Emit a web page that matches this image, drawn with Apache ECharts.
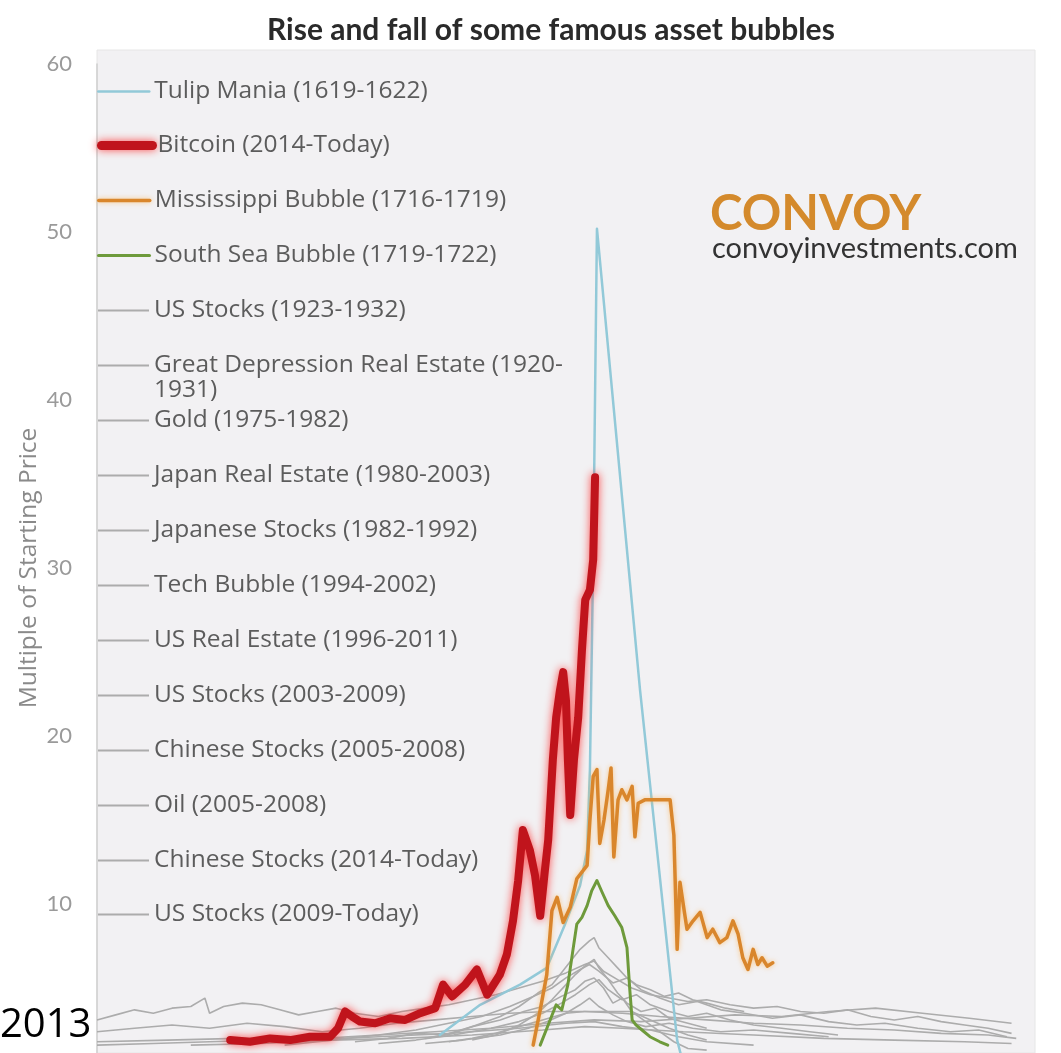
<!DOCTYPE html>
<html>
<head>
<meta charset="utf-8">
<script src="https://cdn.jsdelivr.net/npm/echarts@6/dist/echarts.min.js"></script>
<style>
html,body{margin:0;padding:0;background:#fff;}
#chart{width:1061px;height:1053px;}
</style>
</head>
<body>
<div id="chart"></div>
<script>
// ---- Data (x = period index along the aligned time axis, y = multiple of starting price) ----
const titleText = "Rise and fall of some famous asset bubbles";
const yAxisName = "Multiple of Starting Price";
const yTicks = [0, 10, 20, 30, 40, 50, 60];

const names = [
  "Tulip Mania (1619-1622)",
  "Bitcoin (2014-Today)",
  "Mississippi Bubble (1716-1719)",
  "South Sea Bubble (1719-1722)",
  "US Stocks (1923-1932)",
  "Great Depression Real Estate (1920-1931)",
  "Gold (1975-1982)",
  "Japan Real Estate (1980-2003)",
  "Japanese Stocks (1982-1992)",
  "Tech Bubble (1994-2002)",
  "US Real Estate (1996-2011)",
  "US Stocks (2003-2009)",
  "Chinese Stocks (2005-2008)",
  "Oil (2005-2008)",
  "Chinese Stocks (2014-Today)",
  "US Stocks (2009-Today)"
];

const tulip = [[73.1,2.2],[81.7,4.0],[90.2,5.2],[95.9,6.2],[99.8,8.8],[103.0,11.1],[104.5,13.2],[105.1,18.0],[105.8,30.5],[106.6,50.2],[115.8,22.7],[123.7,1.9],[124.7,0.8]];

const bitcoin = [[28.4,1.9],[32.6,1.8],[36.9,2.0],[41.2,1.9],[45.4,2.1],[49.7,2.1],[51.4,2.6],[52.9,3.6],[54.4,3.3],[56.1,3.0],[59.3,2.9],[62.5,3.2],[65.7,3.1],[68.9,3.5],[72.1,3.8],[73.8,5.2],[75.7,4.5],[78.5,5.2],[81.0,6.1],[83.2,4.6],[85.9,5.8],[87.4,7.0],[88.7,9.0],[89.8,11.4],[90.8,14.4],[92.3,13.2],[93.4,11.7],[94.5,9.3],[95.5,12.0],[96.2,13.8],[97.2,18.6],[97.9,21.1],[98.7,22.7],[99.4,23.8],[100.0,22.1],[100.4,18.6],[100.9,15.3],[101.7,18.6],[102.6,21.1],[103.4,25.1],[104.1,28.1],[105.1,28.7],[105.8,30.5],[106.2,35.4]];

const mississippi = [[93.0,1.6],[94.5,3.7],[95.9,5.8],[97.0,9.6],[98.1,10.4],[99.4,8.9],[100.9,9.8],[102.3,11.5],[104.5,12.3],[105.1,15.0],[105.8,17.6],[106.6,18.0],[107.2,13.6],[108.1,15.0],[109.0,16.8],[109.6,18.1],[110.2,12.8],[111.1,16.2],[111.9,16.8],[113.0,16.2],[114.1,17.0],[114.7,14.0],[115.4,16.0],[116.8,16.2],[122.2,16.2],[123.0,14.1],[123.7,7.3],[124.3,11.3],[125.2,9.6],[125.8,8.5],[127.1,9.0],[128.6,9.5],[130.1,8.0],[131.3,8.5],[132.8,7.7],[134.3,8.0],[135.6,9.0],[136.7,8.2],[137.7,6.8],[138.8,6.1],[139.9,7.3],[140.9,6.4],[141.8,6.8],[142.9,6.3],[144.1,6.5]];

const southSea = [[94.5,1.6],[96.2,2.8],[97.9,4.0],[99.1,3.7],[100.4,5.2],[101.5,7.3],[102.3,8.8],[103.4,9.2],[104.5,9.9],[105.5,10.8],[106.6,11.4],[107.7,10.7],[109.0,9.9],[110.4,9.3],[111.9,8.6],[113.0,7.4],[113.6,4.9],[114.1,3.1],[114.9,2.8],[116.2,2.5],[117.9,2.1],[120.0,1.8],[121.7,1.6]];

const usStocks1923 = [[55,1.8],[62,2.0],[68,2.3],[74,2.2],[80,2.7],[86,3.1],[91,3.6],[95,3.9],[99,4.5],[102,4.9],[104,5.4],[106,5.6],[108,5.0],[110,4.1],[112,4.4],[114,3.6],[117,3.0],[120,2.4],[123,1.8],[126,1.4],[130,1.3]];
const greatDepressionRE = [[20,1.6],[35,1.7],[50,1.9],[65,2.0],[80,2.2],[95,2.5],[104,2.7],[112,2.6],[125,2.4],[140,2.2],[155,2.0],[170,1.9],[185,1.8],[195,1.7]];
const gold = [[70,2.0],[76,2.3],[82,2.9],[86,3.3],[90,3.9],[94,4.7],[97,5.2],[99,5.9],[101,6.6],[103,7.3],[105,7.8],[106,8.0],[107,7.4],[109,6.8],[111,6.2],[113,5.6],[115,5.2],[118,4.9],[121,4.5],[124,4.7],[127,4.3],[130,4.1],[134,3.8],[138,3.6]];
const japanRE = [[0,3.1],[4,3.4],[8,3.7],[12,3.5],[16,3.8],[20,3.9],[23,4.4],[24,3.5],[27,3.9],[31,4.1],[35,4.0],[39,3.7],[43,3.4],[47,3.6],[51,3.8],[55,3.5],[60,3.3],[65,3.6],[70,3.8],[75,4.0],[80,4.3],[85,4.6],[90,5.0],[95,5.4],[100,5.9],[104,6.4],[106,6.6],[108,6.0],[111,5.5],[114,5.0],[118,4.6],[122,4.4],[126,4.2],[130,4.3],[135,4.0],[140,3.8],[145,3.9],[150,3.6],[155,3.5],[160,3.7],[165,3.3],[170,3.1],[175,3.3],[180,3.0],[185,2.8],[190,2.6],[195,2.3]];
const japaneseStocks = [[40,1.6],[50,1.9],[60,2.2],[68,2.5],[75,2.9],[82,3.3],[88,3.9],[93,4.5],[97,5.0],[100,5.6],[103,6.1],[105,6.4],[107,6.0],[110,5.3],[113,5.6],[116,4.9],[120,4.4],[124,4.0],[128,4.2],[133,3.7],[138,3.5],[144,3.2],[150,3.4],[156,3.0],[162,2.8],[168,2.9],[175,2.6],[182,2.4],[188,2.5],[194,2.1]];
const techBubble = [[60,1.7],[68,1.9],[76,2.2],[84,2.6],[90,3.0],[95,3.5],[99,4.1],[102,4.6],[105,5.2],[107,5.5],[109,4.9],[112,4.3],[115,4.6],[118,4.0],[122,3.6],[126,3.3],[130,3.5],[135,3.1],[140,2.8],[146,2.6],[152,2.4],[158,2.2]];
const usRealEstate = [[0,2.4],[8,2.6],[16,2.8],[24,2.6],[32,2.9],[40,2.7],[48,2.4],[56,2.6],[64,2.9],[72,3.1],[80,3.3],[88,3.5],[96,3.6],[104,3.6],[112,3.5],[120,3.3],[130,3.1],[140,2.9],[150,2.8],[160,2.6],[170,2.5],[180,2.3],[190,2.2],[196,2.0]];
const usStocks2003 = [[0,1.8],[15,1.9],[30,2.0],[45,1.9],[60,2.1],[75,2.3],[90,2.6],[100,2.9],[106,3.0],[112,2.7],[118,2.5],[124,2.1],[130,1.8],[140,1.6]];
const chineseStocks2005 = [[80,1.9],[85,2.2],[90,2.8],[94,3.5],[97,4.3],[100,5.2],[102,5.8],[104,6.3],[106,6.7],[107,6.2],[109,5.5],[111,4.7],[113,4.1],[116,3.6],[119,3.8],[122,3.2],[126,2.9],[130,2.6]];
const oil = [[75,1.8],[80,2.0],[85,2.3],[90,2.7],[95,3.1],[100,3.5],[104,3.6],[114,3.6],[118,3.1],[122,2.6],[126,2.2],[130,1.9]];
const chineseStocks2014 = [[70,1.7],[78,1.9],[86,2.2],[92,2.6],[96,3.0],[100,3.5],[103,4.0],[105,4.4],[107,3.9],[110,3.4],[113,3.0],[117,2.7],[122,2.9],[127,2.6],[133,2.4],[140,2.5],[148,2.3],[156,2.1]];
const usStocks2009 = [[0,1.6],[12,1.7],[24,1.8],[36,1.9],[48,2.0],[60,2.2],[72,2.4],[84,2.6],[96,2.9],[106,3.1],[116,3.0],[126,3.2],[136,3.4],[146,3.3],[156,3.6],[166,3.8],[176,3.5],[186,3.2],[195,2.9]];

// ---- Chart ----
const GRAY = '#acacac';
const grayData = [usStocks1923, greatDepressionRE, gold, japanRE, japaneseStocks, techBubble,
  usRealEstate, usStocks2003, chineseStocks2005, oil, chineseStocks2014, usStocks2009];

const styles = {};
styles[names[0]] = {color: '#92c9d8', width: 2.5};
styles[names[1]] = {color: '#c0141c', width: 8, shadowColor: 'rgba(255,20,20,0.75)', shadowBlur: 8};
styles[names[2]] = {color: '#d9862c', width: 3.5, shadowColor: 'rgba(255,170,60,0.6)', shadowBlur: 5};
styles[names[3]] = {color: '#6e9a3b', width: 3};

const series = [];
grayData.forEach(function (d, i) {
  series.push({
    name: names[4 + i], type: 'line', data: d, symbol: 'none', showSymbol: false,
    lineStyle: {color: GRAY, width: 1.6}, itemStyle: {color: GRAY}, z: 2
  });
});
function colored(idx, data, z) {
  const s = styles[names[idx]];
  return {name: names[idx], type: 'line', data: data, symbol: 'none', showSymbol: false,
    lineStyle: Object.assign({join: 'round', cap: 'round'}, s), itemStyle: {color: s.color}, z: z};
}
series.push(colored(0, tulip, 3));
series.push(colored(2, mississippi, 4));
series.push(colored(3, southSea, 4));
series.push(colored(1, bitcoin, 5));

// one legend block per entry, stacked down the left of the plot
const LEG_FONT = 24.5, LEG_LH = 25;
const legends = names.map(function (n, i) {
  const st = styles[n] || {color: GRAY, width: 2};
  const isWrapped = n.indexOf('(1920-') >= 0;
  const center = 91 + 54.93 * i;
  return {
    orient: 'vertical', left: 97, padding: 0, itemWidth: 51, itemHeight: 20,
    top: Math.round(center - (isWrapped ? 1.5 : 0.5) * LEG_LH),
    itemStyle: {opacity: 0, borderWidth: 0},
    textStyle: {fontFamily: 'Open Sans', fontSize: LEG_FONT, lineHeight: LEG_LH, color: '#5c5c5c'},
    formatter: isWrapped ? function (t) { return '\n' + t.replace('(1920-', '(1920-\n'); } : '{name}',
    data: [{name: n, lineStyle: {color: st.color, width: n === names[1] ? 9 : Math.max(st.width, 2),
      shadowColor: st.shadowColor || 'rgba(0,0,0,0)', shadowBlur: st.shadowBlur || 0}}]
  };
});

const chart = echarts.init(document.getElementById('chart'), null, {renderer: 'canvas'});
chart.setOption({
  backgroundColor: '#ffffff',
  animation: false,
  title: {
    text: titleText, left: 262, top: 10,
    textStyle: {fontFamily: 'Lato', fontSize: 30, fontWeight: 'bold', color: '#2a2a2a'}
  },
  grid: {left: 97, top: 64, width: 938, height: 1008, outerBoundsMode: 'none', containLabel: false},
  xAxis: {type: 'value', min: 0, max: 200, show: false},
  yAxis: {
    type: 'value', min: 0, max: 60, interval: 10,
    name: yAxisName, nameLocation: 'middle', nameGap: 55, nameMoveOverlap: false,
    nameTextStyle: {fontFamily: 'Open Sans', fontSize: 24.5, color: '#8a8a8a'},
    axisLine: {show: true, lineStyle: {color: '#cfcfcf', width: 1.5}},
    axisTick: {show: false},
    splitLine: {show: false},
    axisLabel: {
      margin: 25, fontFamily: 'Lato', fontSize: 22, color: '#9a9a9a',
      formatter: function (v) { return yTicks.indexOf(v) > 0 ? String(v) : ''; }
    }
  },
  legend: legends,
  graphic: [
    {type: 'rect', z: -10, silent: true, shape: {x: 97, y: 50, width: 938, height: 1003},
      style: {fill: '#f2f1f3', stroke: '#e6e6e6', lineWidth: 1}},
    {type: 'text', left: 710, top: 190, z: 10,
      style: {text: 'CONVOY', fontFamily: 'Lato', fontWeight: 'bold', fontSize: 49, fill: '#d48a2c'}},
    {type: 'text', left: 712, top: 234, z: 10,
      style: {text: 'convoyinvestments.com', fontFamily: 'Lato', fontSize: 29, fill: '#333333'}},
    {type: 'text', left: 0, top: 1006, z: 20,
      style: {text: '2013', fontFamily: 'Open Sans', fontSize: 40, fill: '#000000'}}
  ],
  series: series
});
</script>
</body>
</html>
